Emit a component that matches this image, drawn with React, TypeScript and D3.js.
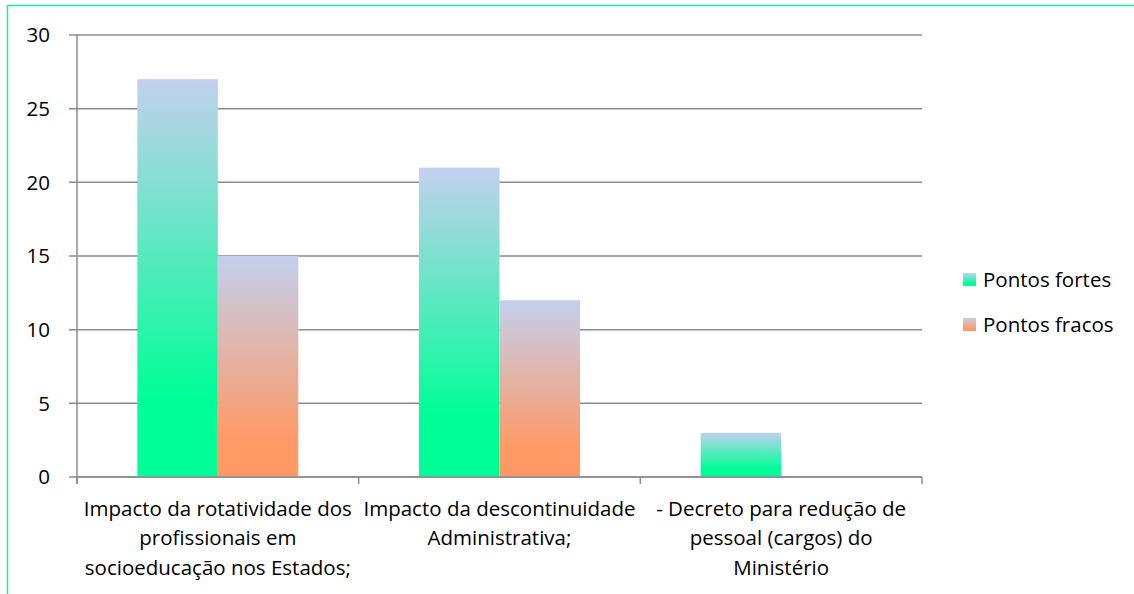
import React from "react";
import * as d3 from "d3";

const categories = [
  "Impacto da rotatividade dos\nprofissionais em\nsocioeducação nos Estados;",
  "Impacto da descontinuidade\nAdministrativa;",
  "- Decreto para redução de\npessoal (cargos) do\nMinistério",
];
const seriesNames = ["Pontos fortes", "Pontos fracos"];
const fortes = [27, 21, 3];
const fracos = [15, 12, 0];
const yTicks = [0, 5, 10, 15, 20, 25, 30];

const W = 1134;
const H = 594;
const margin = { left: 77, right: 212, top: 35, bottom: 117 };
const FONT = "'Open Sans', 'Liberation Sans', sans-serif";
const FS = 20.5;
const GRID = "#8c8c8c";

export default function App() {
  const x = d3
    .scaleBand<number>()
    .domain(d3.range(categories.length))
    .range([margin.left, W - margin.right]);
  // the pair of bars fills ~160px of each ~281px band
  const inner = d3
    .scaleBand<number>()
    .domain([0, 1])
    .range([0, x.bandwidth()])
    .paddingOuter(0.75)
    .paddingInner(0);
  const y = d3.scaleLinear().domain([0, 30]).range([H - margin.bottom, margin.top]);
  const series = [fortes, fracos];
  const fills = ["url(#gFortes)", "url(#gFracos)"];

  return (
    <svg width={W} height={H} style={{ position: "absolute", left: 0, top: 0, display: "block" }}>
      <defs>
        <linearGradient id="gFortes" x1="0" y1="0" x2="0" y2="1">
          <stop offset="0" stopColor="#c3d0ee" />
          <stop offset="0.8" stopColor="#00fe98" />
          <stop offset="1" stopColor="#00fe98" />
        </linearGradient>
        <linearGradient id="gFracos" x1="0" y1="0" x2="0" y2="1">
          <stop offset="0" stopColor="#c3d0ee" />
          <stop offset="0.84" stopColor="#ff9966" />
          <stop offset="1" stopColor="#ff9966" />
        </linearGradient>
      </defs>
      <rect width={W} height={H} fill="#fff" />
      <line x1={7.5} x2={7.5} y1={5.5} y2={H} stroke="#22e99a" strokeWidth={1.5} />
      <line x1={7} x2={W} y1={5.5} y2={5.5} stroke="#22e99a" strokeWidth={1.5} />

      {yTicks.map((t) => (
        <g key={t}>
          <line x1={margin.left - 8} x2={W - margin.right} y1={y(t)} y2={y(t)} stroke={GRID} strokeWidth={1.5} />
          <text
            x={50}
            y={y(t)}
            dy="0.36em"
            textAnchor="end"
            fontFamily={FONT}
            fontSize={FS}
            fill="#000"
          >
            {t}
          </text>
        </g>
      ))}
      <line x1={margin.left} x2={margin.left} y1={margin.top} y2={y(0) + 7} stroke={GRID} strokeWidth={1.5} />

      {series.map((vals, si) =>
        vals.map((v, ci) =>
          v > 0 ? (
            <rect
              key={`${si}-${ci}`}
              x={(x(ci) as number) + (inner(si) as number)}
              y={y(v)}
              width={inner.bandwidth()}
              height={y(0) - y(v)}
              fill={fills[si]}
            />
          ) : null
        )
      )}

      <line x1={margin.left} x2={W - margin.right} y1={y(0)} y2={y(0)} stroke={GRID} strokeWidth={1.5} />
      {d3.range(categories.length + 1).map((i) => {
        const px = margin.left + i * x.step();
        return <line key={i} x1={px} x2={px} y1={y(0)} y2={y(0) + 7} stroke={GRID} strokeWidth={1.5} />;
      })}

      {categories.map((c, ci) => (
        <text
          key={ci}
          x={(x(ci) as number) + x.bandwidth() / 2}
          y={y(0) + 39}
          textAnchor="middle"
          fontFamily={FONT}
          fontSize={FS}
          fill="#000"
        >
          {c.split("\n").map((line, li) => (
            <tspan key={li} x={(x(ci) as number) + x.bandwidth() / 2} dy={li === 0 ? 0 : 29.3}>
              {line}
            </tspan>
          ))}
        </text>
      ))}

      {seriesNames.map((n, i) => (
        <g key={n} transform={`translate(963, ${273 + i * 45})`}>
          <rect width={13} height={13} fill={fills[i]} />
          <text x={20} y={6.5} dy="0.36em" fontFamily={FONT} fontSize={FS} fill="#000">
            {n}
          </text>
        </g>
      ))}
    </svg>
  );
}
